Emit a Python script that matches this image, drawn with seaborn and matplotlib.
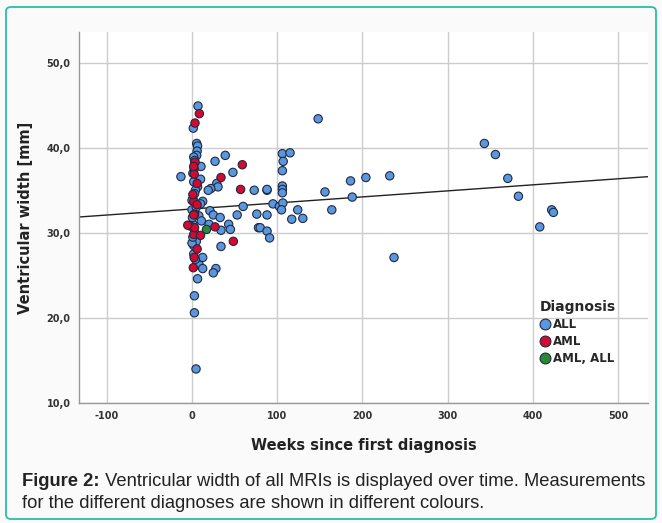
import matplotlib
matplotlib.use("Agg")
import matplotlib.pyplot as plt
from matplotlib.patches import FancyBboxPatch
import seaborn as sns
import pandas as pd

# ---- data ----
all_weeks = [7, 1.5, 5.5, 6.5, 6, 5.5, 39, 27, 10.5, 48, -13, 10, 29, 30.5, 22, 73, 88,
             6.5, 4, 3, 12.5, 10, 60, 0, 21, 25, 33, 53, 76, 88, 8, 11, 20, 43, 45, 78,
             34, 1, 5, 34, 2, 12.5, 8.5, 12.5, 28, 25, 6.5, 2.8, 2.8, 4.7,
             2, 3, 1, 2, 0, 1, 3, 5, 0, 1, 2, 4, 0.5, 19,
             148, 106, 115, 107, 106, 88, 106, 106, 106, 156, 186, 204, 232, 188,
             95, 102.5, 106.5, 105, 124, 164, 117, 130, 80, 88, 91, 237,
             343, 356, 370.5, 383, 422, 424, 408]
all_width = [44.9, 42.3, 40.5, 40.2, 39.6, 39.1, 39.1, 38.4, 37.8, 37.1, 36.6, 36.3, 35.8, 35.4, 35.2, 35.0, 35.0,
             35.4, 35.0, 34.6, 33.7, 33.4, 33.1, 32.7, 32.6, 32.1, 31.8, 32.1, 32.2, 32.1, 32.0, 31.4, 31.0, 31.0, 30.4, 30.6,
             30.3, 34.0, 33.0, 28.4, 28.5, 27.1, 26.2, 25.8, 25.8, 25.3, 24.6, 22.6, 20.6, 14.0,
             38.9, 38.5, 37.0, 36.0, 33.8, 31.0, 30.0, 29.0, 28.8, 29.5, 27.5, 26.9, 31.8, 35.0,
             43.4, 39.3, 39.4, 38.4, 37.3, 35.1, 35.5, 35.1, 34.7, 34.8, 36.1, 36.5, 36.7, 34.2,
             33.4, 33.1, 33.5, 32.7, 32.7, 32.7, 31.6, 31.7, 30.6, 30.2, 29.4, 27.1,
             40.5, 39.2, 36.4, 34.3, 32.7, 32.4, 30.7]

aml_weeks = [8.6, 3.5, 3.5, 2.5, 2.5, 2, 59, 34, 6, 57, 2, 6, 3, 2, -2, 27, 2, 10,
             48.5, 6, 2.5, 1.5, 3, -5, 1]
aml_width = [44.0, 42.9, 38.3, 37.5, 36.9, 37.8, 38.0, 36.5, 35.8, 35.1, 33.7, 33.3, 32.2, 32.1, 30.8, 30.7, 29.8, 29.7,
             29.0, 28.1, 27.1, 25.9, 30.6, 30.9, 34.5]

mixed_weeks = [17]
mixed_width = [30.4]

categories = ["ALL", "AML", "AML, ALL"]
x_ticks = [-100, 0, 100, 200, 300, 400, 500]
y_ticks = [10, 20, 30, 40, 50]
y_tick_labels = ["10,0", "20,0", "30,0", "40,0", "50,0"]

fit_intercept = 32.8
fit_slope = 0.0071

df = pd.DataFrame({
    "weeks": all_weeks + aml_weeks + mixed_weeks,
    "width": all_width + aml_width + mixed_width,
    "Diagnosis": ["ALL"] * len(all_weeks) + ["AML"] * len(aml_weeks) + ["AML, ALL"] * len(mixed_weeks),
})

sns.set_style("white")
plt.rcParams["font.family"] = ["DejaVu Sans"]

fig = plt.figure(figsize=(6.62, 5.23), dpi=100, facecolor="#fafafa")
ax = fig.add_axes([79 / 662, 1 - 403 / 523, (648 - 79) / 662, (403 - 32) / 523])
ax.set_facecolor("white")

palette = {"ALL": "#5b97dc", "AML": "#d6082e", "AML, ALL": "#2a8a32"}
sns.scatterplot(data=df, x="weeks", y="width", hue="Diagnosis", hue_order=categories,
                palette=palette, s=36, edgecolor="#1e2a44", linewidth=0.8, ax=ax, zorder=3)

ax.axline((0, fit_intercept), slope=fit_slope, color="#222222", lw=1.0, zorder=2)

ax.set_xlim(-132.6, 535)
ax.set_ylim(10, 53.6)
ax.set_xticks(x_ticks)
ax.set_xticklabels([str(t) for t in x_ticks], fontsize=7, fontweight="bold", color="#333333")
ax.set_yticks(y_ticks)
ax.set_yticklabels(y_tick_labels, fontsize=7, fontweight="bold", color="#333333")
ax.grid(True, color="#cccccc", lw=1.0)
ax.set_axisbelow(True)
for s in ["top", "right"]:
    ax.spines[s].set_visible(False)
for s in ["left", "bottom"]:
    ax.spines[s].set_color("#999999")
    ax.spines[s].set_linewidth(1.0)
ax.tick_params(axis="both", length=0, pad=6)

ax.set_xlabel("Weeks since first diagnosis", fontsize=10.5, fontweight="bold", labelpad=12, color="#222222")
ax.set_ylabel("Ventricular width [mm]", fontsize=10.5, fontweight="bold", labelpad=10, color="#222222")

handles, labels = ax.get_legend_handles_labels()
leg = ax.legend(handles, labels, title="Diagnosis", loc="upper left",
                bbox_to_anchor=(0.795, 0.30), frameon=False, handletextpad=0.2,
                labelspacing=0.35, borderpad=0.2, handlelength=0.9, markerscale=1.3,
                prop={"weight": "bold", "size": 8.5})
leg.get_title().set_fontweight("bold")
leg.get_title().set_fontsize(10)
leg._legend_box.align = "left"

# caption
cap_font = ["Liberation Sans Narrow", "Liberation Sans"]
cap_size = 13.2
t1 = fig.text(22 / 662, 1 - 481 / 523, "Figure 2:", fontsize=cap_size, fontweight="bold",
              family=cap_font, color="#222222", va="center")
fig.canvas.draw()
bb = t1.get_window_extent()
x_end = fig.transFigure.inverted().transform((bb.x1, bb.y0))[0]
fig.text(x_end, 1 - 481 / 523,
         " Ventricular width of all MRIs is displayed over time. Measurements",
         fontsize=cap_size, family=cap_font, color="#222222", va="center")
fig.text(22 / 662, 1 - 504 / 523, "for the different diagnoses are shown in different colours.",
         fontsize=cap_size, family=cap_font, color="#222222", va="center")

# teal frame
frame = FancyBboxPatch((6 / 662, 4 / 523), 650 / 662, 512 / 523,
                       boxstyle="round,pad=0,rounding_size=0.008",
                       transform=fig.transFigure, fill=False, edgecolor="#27c0a4", lw=1.3)
fig.patches.append(frame)

fig.savefig("out.png", dpi=100, facecolor=fig.get_facecolor())
